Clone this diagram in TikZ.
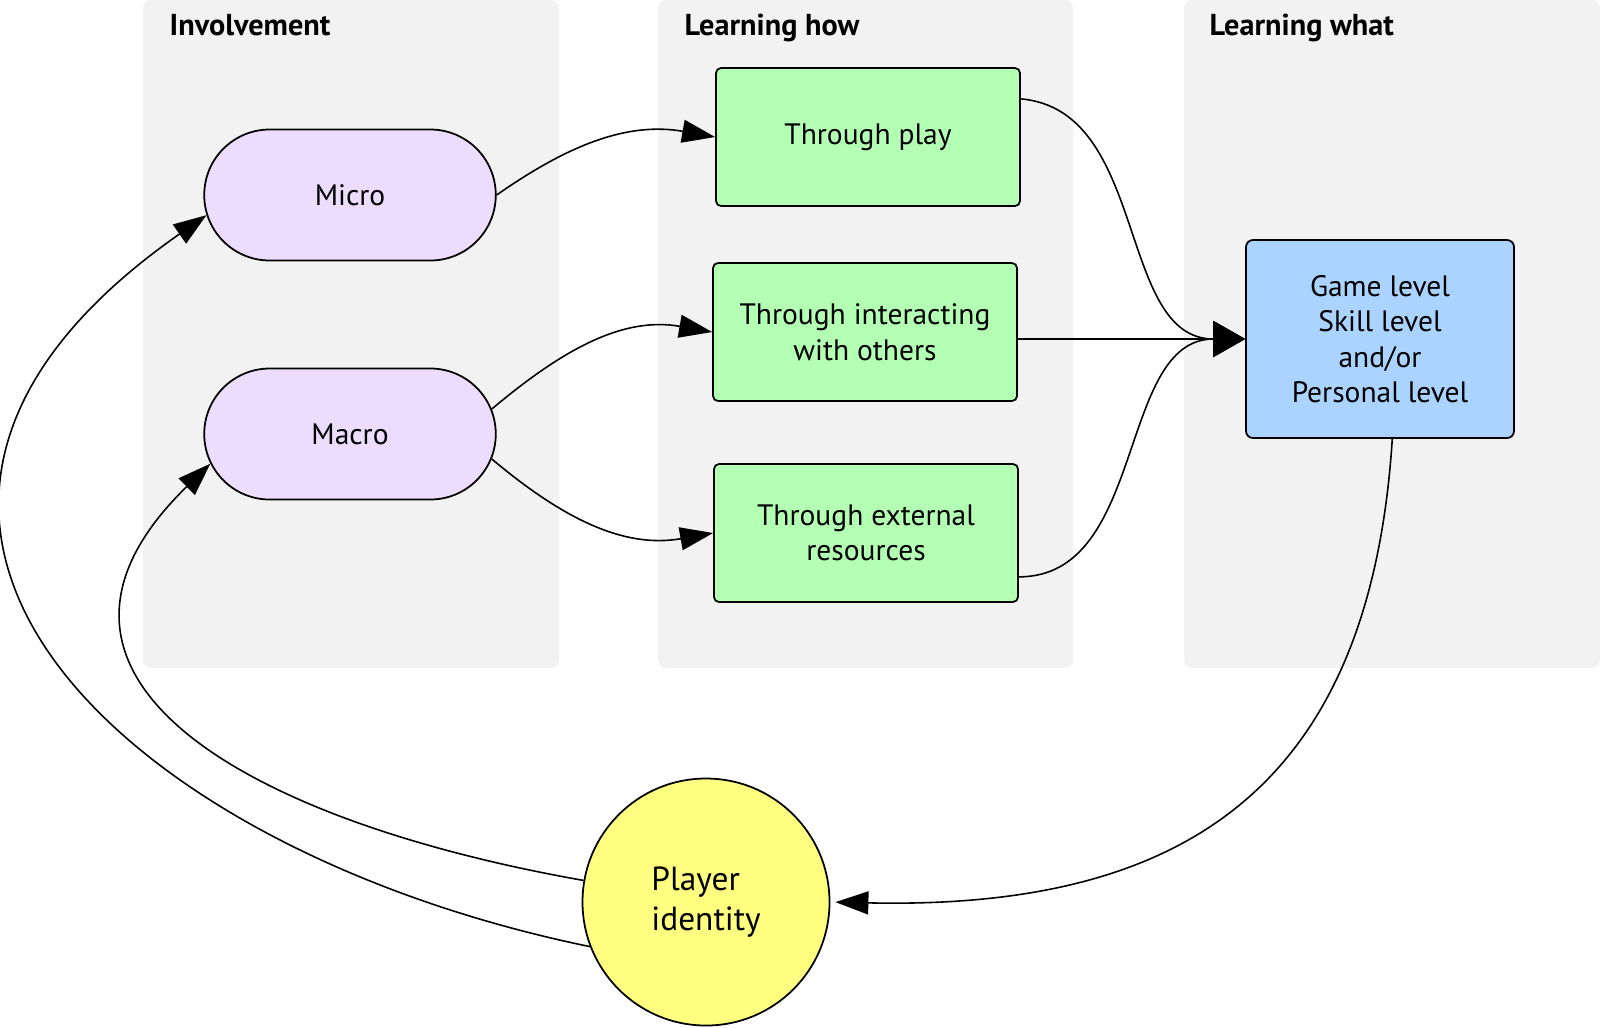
\documentclass[tikz,border=0pt]{standalone}
\usepackage{fontspec}
\setmainfont{PT Sans}
\usetikzlibrary{arrows.meta,shapes.misc}

\definecolor{panelgray}{HTML}{F2F2F2}
\definecolor{lilac}{HTML}{ECDCFD}
\definecolor{mint}{HTML}{B3FFB3}
\definecolor{sky}{HTML}{AAD4FF}
\definecolor{lemon}{HTML}{FFFF80}

\begin{document}
\begin{tikzpicture}[
        panel/.style={fill=panelgray, rounded corners=0.08cm},
        head/.style={anchor=base west, inner sep=0pt, font=\fontsize{8.6}{10}\selectfont\bfseries},
        invbox/.style={rounded rectangle, draw=black, line width=0.5pt, fill=lilac, minimum width=3.15cm, minimum height=1.31cm},
        howbox/.style={rectangle, rounded corners=0.05cm, draw=black, line width=0.5pt, fill=mint, minimum width=3.04cm, minimum height=1.38cm, align=center},
        whatbox/.style={rectangle, rounded corners=0.07cm, draw=black, line width=0.5pt, fill=sky, minimum width=2.68cm, minimum height=1.98cm, align=center},
        idcircle/.style={circle, draw=black, line width=0.5pt, fill=lemon, minimum size=2.47cm, align=left, font=\fontsize{9.5}{11.6}\selectfont},
        edge/.style={-{Triangle[length=0.33cm,width=0.23cm]}, line width=0.45pt},
        joinedge/.style={-{Triangle[length=0.32cm,width=0.36cm]}, line width=0.45pt},
        font=\fontsize{8.4}{10.1}\selectfont
    ]
    \useasboundingbox (0,0) rectangle (16,-10.27);

    % Colunas
    \fill[panel] (1.43,0) rectangle (5.59,-6.68);
    \fill[panel] (6.58,0) rectangle (10.73,-6.68);
    \fill[panel] (11.84,0) rectangle (16.0,-6.68);

    \node[head] (hinv) at (1.69,-0.35) {Involvement};
    \node[head] (hhow) at (6.84,-0.35) {Learning how};
    \node[head] (hwhat) at (12.09,-0.35) {Learning what};

    % Involvement
    \node[invbox] (micro) at (3.50,-1.95) {Micro};
    \node[invbox] (macro) at (3.50,-4.34) {Macro};

    % Learning how
    \node[howbox] (play) at (8.68,-1.37) {Through play};
    \node[howbox] (inter) at (8.65,-3.32) {Through interacting\\with others};
    \node[howbox] (extern) at (8.66,-5.33) {Through external\\resources};

    % Learning what
    \node[whatbox] (levels) at (13.80,-3.39) {Game level\\Skill level\\and/or\\Personal level};

    % Identity
    \node[idcircle] (player) at (7.06,-9.02) {Player\\identity};

    % Setas
    \draw[edge] (micro.east) to[out=35,in=170] (play.west);
    \draw[edge] (macro.10) to[out=40,in=170] (inter.west);
    \draw[edge] (macro.-10) to[out=-40,in=190] (extern.west);

    \draw[joinedge] (play.14) to[out=-5,in=180] (levels.west);
    \draw[joinedge] (inter.east |- levels.west) -- (levels.west);
    \draw[joinedge] (extern.-16) to[out=0,in=180] (levels.west);

    \draw[edge, shorten >=0.5mm] (levels.-83) .. controls (13.70,-7.87) and (11.85,-9.1) .. (player.east);
    \draw[edge] (player.170) .. controls (2.36,-8.19) and (-0.05,-6.73) .. (macro.192);
    \draw[edge] (player.201) .. controls (1.2,-8.5) and (-2.3,-5.2) .. (micro.188);

\end{tikzpicture}
\end{document}
